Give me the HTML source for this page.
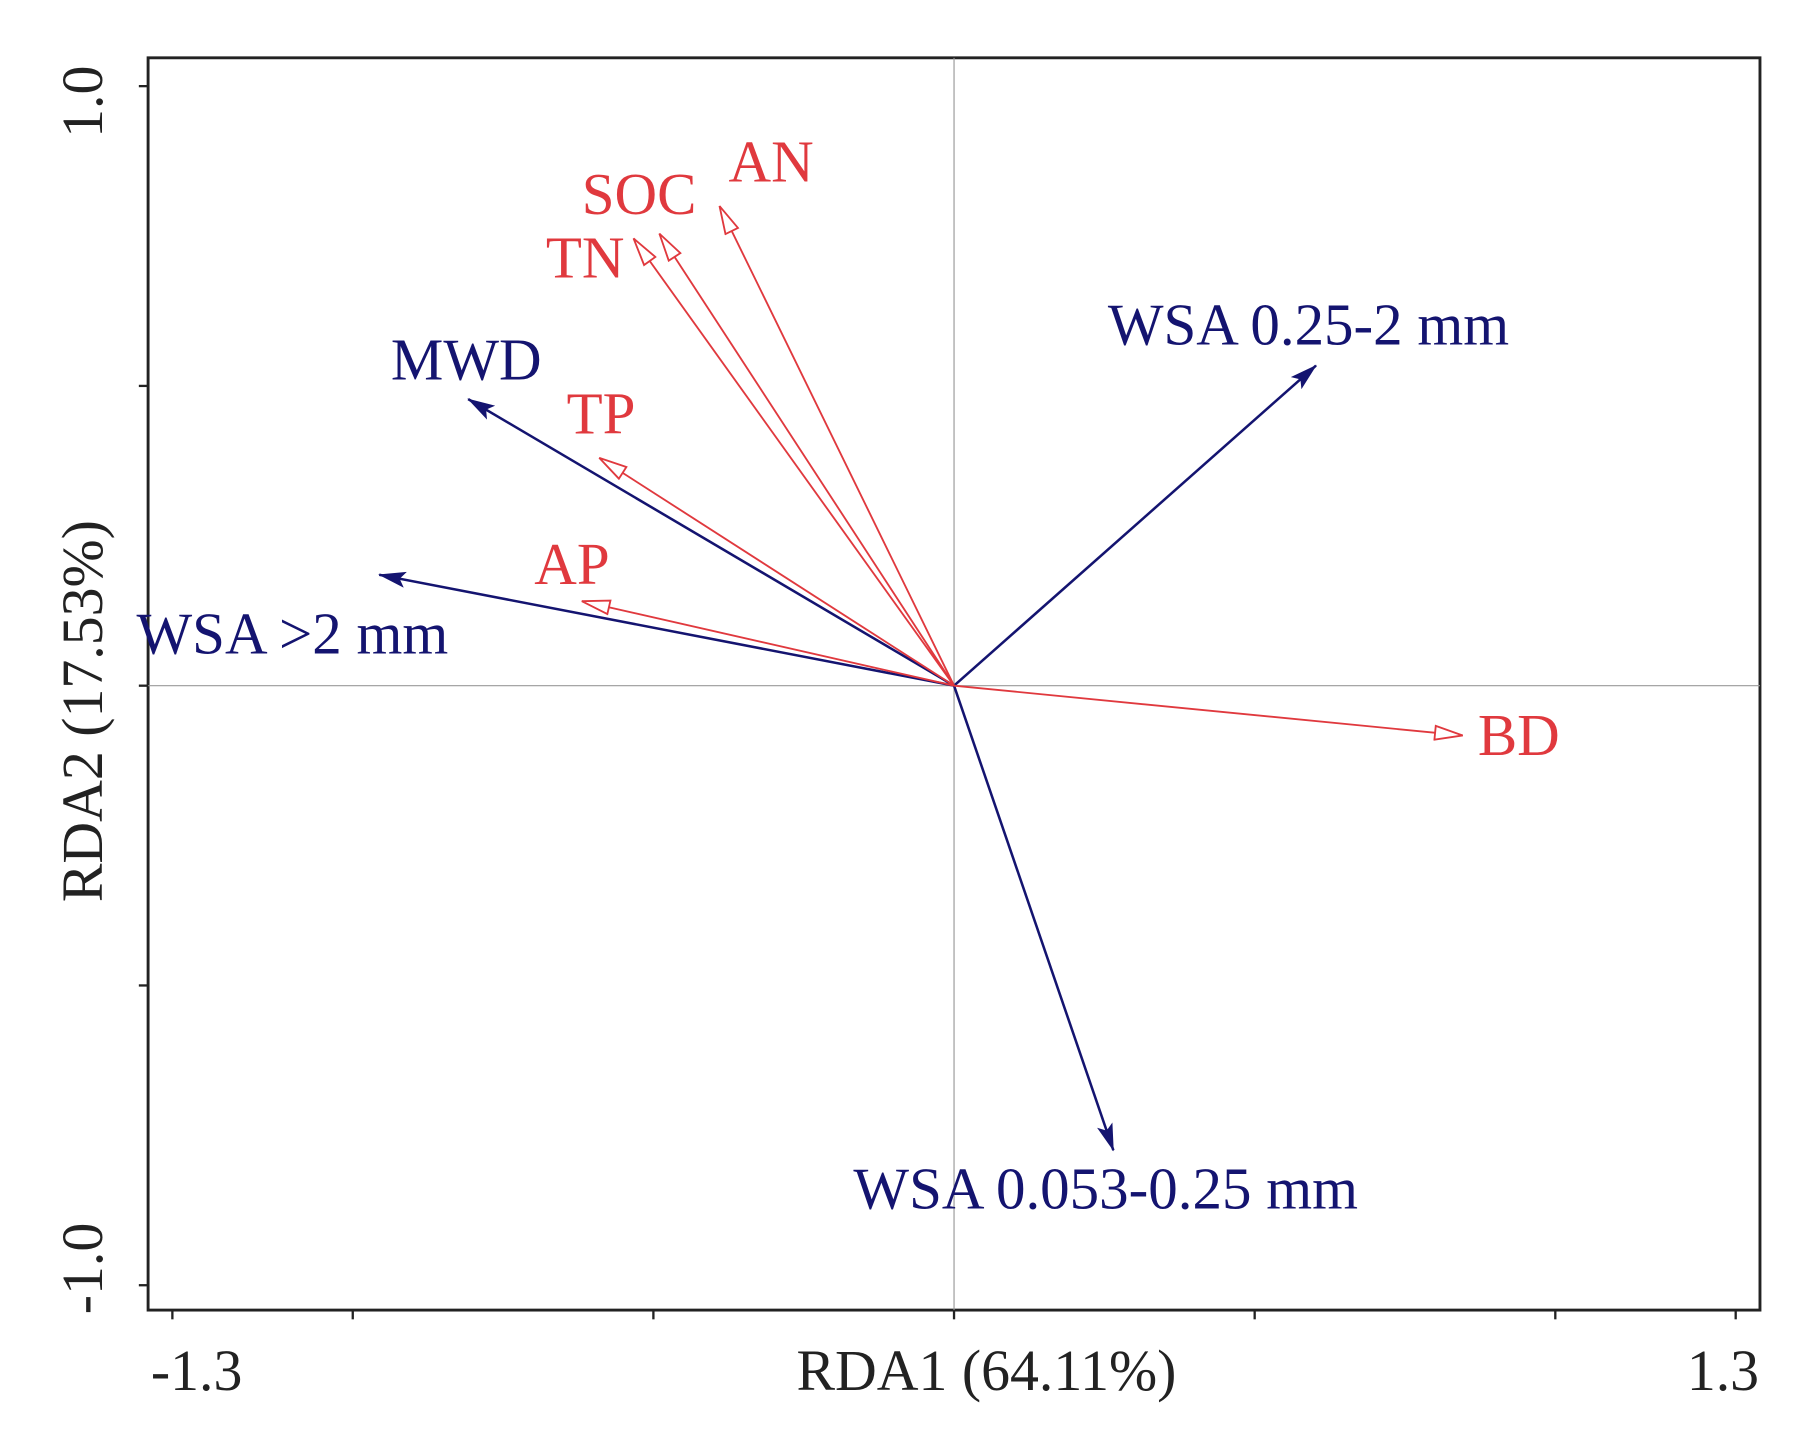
<!DOCTYPE html>
<html><head><meta charset="utf-8"><style>
html,body{margin:0;padding:0;background:#fff}
svg{display:block}
text{font-family:"Liberation Serif",serif}
</style></head><body>
<svg id="chart" width="1804" height="1450" viewBox="0 0 1560 1254" xmlns="http://www.w3.org/2000/svg">
<defs>
<marker id="navyHead" markerWidth="24" markerHeight="14" refX="23" refY="7" orient="auto" markerUnits="userSpaceOnUse">
<path d="M0,0 L24,7 L0,14 L5,7 Z" fill="#141470"/></marker>
<marker id="redHead" markerWidth="26" markerHeight="14" refX="25" refY="7" orient="auto" markerUnits="userSpaceOnUse">
<path d="M1,1 L25,7 L1,13 Z" fill="#fff" stroke="#e0393e" stroke-width="1.6"/></marker>
</defs>
<rect x="128" y="50" width="1394" height="1083" fill="none" stroke="#222" stroke-width="2.5"/>
<g id="grid"></g>
<g id="ticks"></g>
<g id="arrows"></g>
<g id="labels"></g>
<text x="853" y="1202" font-size="50" text-anchor="middle" fill="#222">RDA1 (64.11%)</text>
<text x="170" y="1202" font-size="50" text-anchor="middle" fill="#222">-1.3</text>
<text x="1490" y="1202" font-size="50" text-anchor="middle" fill="#222">1.3</text>
<text transform="translate(88,615) rotate(-90)" font-size="50" text-anchor="middle" fill="#222">RDA2 (17.53%)</text>
<text transform="translate(88,88) rotate(-90)" font-size="50" text-anchor="middle" fill="#222">1.0</text>
<text transform="translate(88,1097) rotate(-90)" font-size="50" text-anchor="middle" fill="#222">-1.0</text>
</svg>
<script>
const names=["WSA 0.25-2 mm","WSA 0.053-0.25 mm","WSA >2 mm","MWD","BD","AN","SOC","TN","TP","AP"];
const rda1=[0.602,0.265,-0.956,-0.808,0.846,-0.390,-0.490,-0.533,-0.590,-0.619];
const rda2=[0.534,-0.775,0.185,0.478,-0.083,0.800,0.754,0.746,0.380,0.141];
const groups=["resp","resp","resp","resp","env","env","env","env","env","env"];
const xTicks=[-1.3,-1.0,-0.5,0,0.5,1.0,1.3];
const yTicks=[1.0,0.5,0,-0.5,-1.0];
const NS="http://www.w3.org/2000/svg";
const X=v=>825+v*520, Y=v=>593-v*518.5;
function mk(t,a,p){const e=document.createElementNS(NS,t);for(const k in a)e.setAttribute(k,a[k]);p.appendChild(e);return e;}
const grid=document.getElementById('grid'),ticks=document.getElementById('ticks'),arrows=document.getElementById('arrows'),labels=document.getElementById('labels');
let g=mk('line',{x1:X(0),x2:X(0),y1:50,y2:1133,stroke:'#999','stroke-width':1},grid);


g=mk('line',{x1:128,x2:1522,y1:Y(0),y2:Y(0),stroke:'#999','stroke-width':1},grid);


xTicks.forEach(v=>{const t=mk('line',{x1:X(v),x2:X(v),y1:1133,y2:1141,stroke:'#222','stroke-width':2},ticks);

});
yTicks.forEach(v=>{const t=mk('line',{x1:120,x2:128,y1:Y(v),y2:Y(v),stroke:'#222','stroke-width':2},ticks);

});
const lblPos={"WSA 0.25-2 mm":[958,298],"WSA 0.053-0.25 mm":[738,1045],"WSA >2 mm":[118,565],"MWD":[338,328],"BD":[1278,653],"AN":[630,157],"SOC":[503,185],"TN":[472,240],"TP":[490,375],"AP":[462,505]};
names.forEach((n,i)=>{
const env=groups[i]==='env';
const col=env?'#e0393e':'#141470';
const a=mk('line',{x1:X(0),y1:Y(0),x2:X(rda1[i]),y2:Y(rda2[i]),stroke:col,'stroke-width':env?1.6:2.2,'marker-end':env?'url(#redHead)':'url(#navyHead)'},arrows);


const p=lblPos[n];
const t=mk('text',{x:p[0],y:p[1],'font-size':51,fill:col},labels);
t.textContent=n;


});
</script>
</body></html>
